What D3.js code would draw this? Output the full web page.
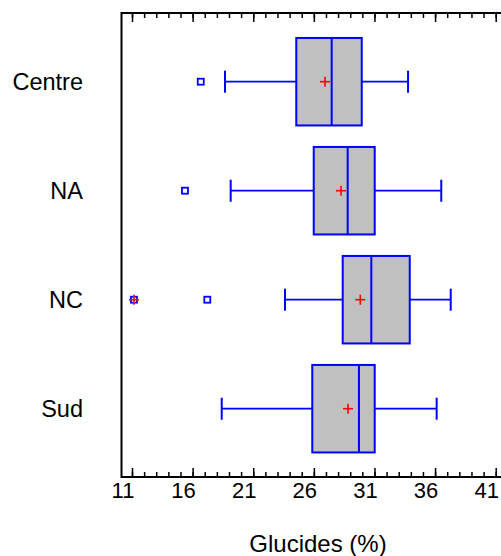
<!DOCTYPE html>
<html>
<head>
<meta charset="utf-8">
<script src="https://cdn.jsdelivr.net/npm/d3@7.9.0/dist/d3.min.js"></script>
<style>
  body { margin: 0; background: #fff; }
  text { font-family: Arial, "Liberation Sans", sans-serif; fill: #000; }
</style>
</head>
<body>
<div id="chart"></div>
<script>
// box plot stats
const groups = ['Centre', 'NA', 'NC', 'Sud'];
const whiskerLow = [18.67, 19.14, 23.62, 18.40];
const q1 = [24.55, 25.99, 28.38, 25.87];
const medians = [27.47, 28.79, 30.74, 29.72];
const q3 = [29.95, 31.02, 33.91, 31.02];
const whiskerHigh = [33.77, 36.51, 37.29, 36.13];
const means = [26.92, 28.24, 29.83, 28.82];
const outliers = [[16.67], [15.37], [17.21], []];
const farOutliers = [[], [], [11.16], []];
const majorTicks = [11, 16, 21, 26, 31, 36, 41];
const minorTicks = d3.range(11, 42, 1);
const xTitle = 'Glucides (%)';

const width = 501, height = 556;
const frame = { left: 121.5, top: 13, right: 503, bottom: 477 };

const rows = groups.map((g, i) => ({
  name: g,
  lo: whiskerLow[i], q1: q1[i], med: medians[i], q3: q3[i], hi: whiskerHigh[i],
  mean: means[i], out: outliers[i], far: farOutliers[i]
}));

const svg = d3.select('#chart').append('svg')
  .attr('width', width)
  .attr('height', height);

const x = d3.scaleLinear().domain([11, 41]).range([132, 495.7]);
const y = d3.scalePoint().domain(groups).range([81.7, 408.7]);
const boxH = 87.5;
const capH = 22;

// frame (open on the right)
svg.append('path')
  .attr('d', `M${frame.right},${frame.top}H${frame.left}V${frame.bottom}H${frame.right}`)
  .attr('fill', 'none')
  .attr('stroke', '#000')
  .attr('stroke-width', 2);

// inward ticks, bottom and top
function tickAxis(axisFn, ty, values, size) {
  const g = svg.append('g')
    .attr('transform', `translate(0,${ty})`)
    .call(axisFn(x).tickValues(values).tickSize(-size).tickFormat(''));
  g.select('.domain').remove();
  g.selectAll('line').attr('stroke', '#000').attr('stroke-width', 1.5);
  return g;
}
tickAxis(d3.axisBottom, frame.bottom, minorTicks, 5);
tickAxis(d3.axisBottom, frame.bottom, majorTicks, 9);
tickAxis(d3.axisTop, frame.top, minorTicks, 5);
tickAxis(d3.axisTop, frame.top, majorTicks, 9);

// tick labels
svg.append('g')
  .selectAll('text')
  .data(majorTicks)
  .join('text')
  .attr('x', d => x(d) - 9)
  .attr('y', 498)
  .attr('text-anchor', 'middle')
  .style('font-size', '22px')
  .text(d => d);

// category labels
svg.append('g')
  .selectAll('text')
  .data(groups)
  .join('text')
  .attr('x', 83)
  .attr('y', d => y(d) + 8.5)
  .attr('text-anchor', 'end')
  .style('font-size', '23.5px')
  .text(d => d);

svg.append('text')
  .attr('x', 318)
  .attr('y', 552)
  .attr('text-anchor', 'middle')
  .style('font-size', '24px')
  .text(xTitle);

const blue = '#0000ff';
const g = svg.append('g').selectAll('g')
  .data(rows)
  .join('g')
  .attr('transform', d => `translate(0,${y(d.name)})`);

// whiskers
g.append('line')
  .attr('x1', d => x(d.lo)).attr('x2', d => x(d.q1))
  .attr('stroke', blue).attr('stroke-width', 1.8);
g.append('line')
  .attr('x1', d => x(d.q3)).attr('x2', d => x(d.hi))
  .attr('stroke', blue).attr('stroke-width', 1.8);
g.append('line')
  .attr('x1', d => x(d.lo)).attr('x2', d => x(d.lo))
  .attr('y1', -capH / 2).attr('y2', capH / 2)
  .attr('stroke', blue).attr('stroke-width', 2);
g.append('line')
  .attr('x1', d => x(d.hi)).attr('x2', d => x(d.hi))
  .attr('y1', -capH / 2).attr('y2', capH / 2)
  .attr('stroke', blue).attr('stroke-width', 2);

// box
g.append('rect')
  .attr('x', d => x(d.q1))
  .attr('y', -boxH / 2)
  .attr('width', d => x(d.q3) - x(d.q1))
  .attr('height', boxH)
  .attr('fill', '#c0c0c0')
  .attr('stroke', blue)
  .attr('stroke-width', 2);
g.append('line')
  .attr('x1', d => x(d.med)).attr('x2', d => x(d.med))
  .attr('y1', -boxH / 2).attr('y2', boxH / 2)
  .attr('stroke', blue).attr('stroke-width', 2);

// outliers
const sq = 6;
g.selectAll('rect.out')
  .data(d => d.out.concat(d.far))
  .join('rect')
  .attr('class', 'out')
  .attr('x', v => x(v) - sq / 2)
  .attr('y', -sq / 2)
  .attr('width', sq).attr('height', sq)
  .attr('fill', 'none')
  .attr('stroke', blue)
  .attr('stroke-width', 1.8);

// mean markers and far outlier crosses
function plus(sel) {
  sel.append('line').attr('x1', -5).attr('x2', 5).attr('stroke', 'red').attr('stroke-width', 1.6);
  sel.append('line').attr('y1', -5).attr('y2', 5).attr('stroke', 'red').attr('stroke-width', 1.6);
}
g.append('g')
  .attr('transform', d => `translate(${x(d.mean)},0)`)
  .call(plus);
g.selectAll('g.far')
  .data(d => d.far)
  .join('g')
  .attr('class', 'far')
  .attr('transform', v => `translate(${x(v)},0)`)
  .call(plus);
</script>
</body>
</html>
